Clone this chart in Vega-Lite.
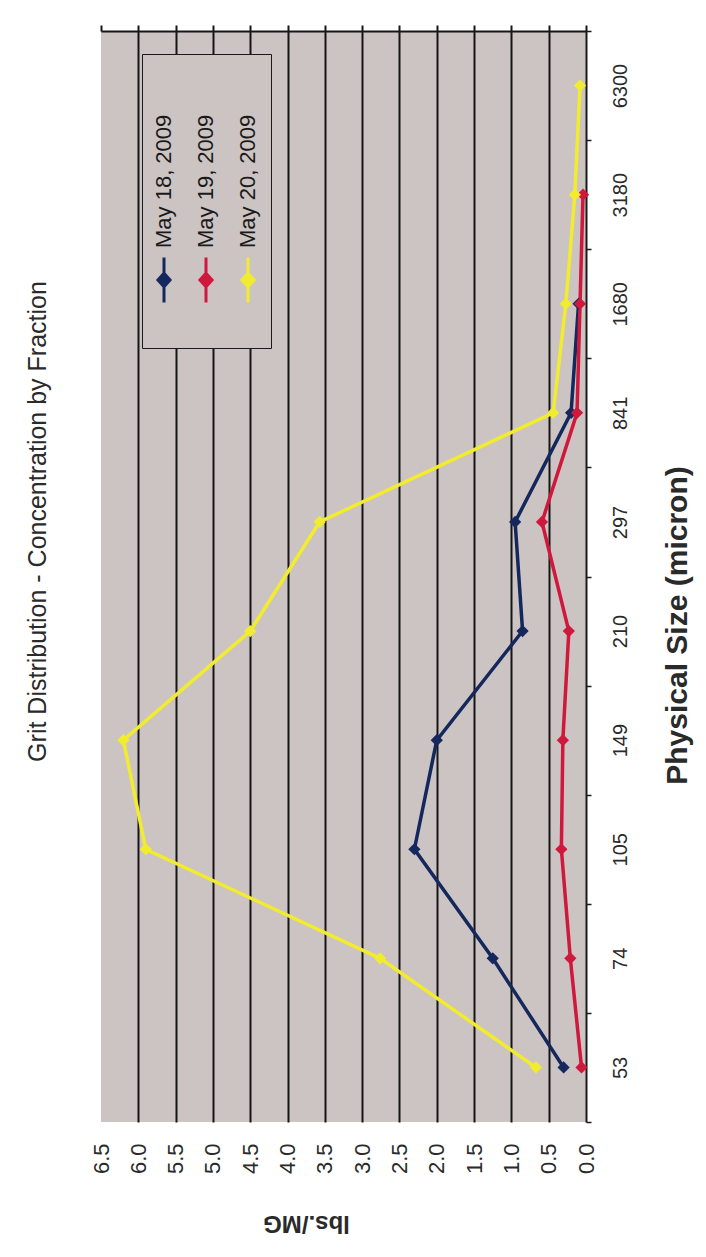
{
  "$schema": "https://vega.github.io/schema/vega-lite/v6.json",
  "width": 485,
  "height": 1091,
  "autosize": "none",
  "padding": {"left": 101, "top": 31, "right": 120, "bottom": 135},
  "background": "white",
  "title": {
    "text": "Grit Distribution - Concentration by Fraction",
    "orient": "left",
    "angle": 270,
    "anchor": "middle",
    "offset": 39,
    "dx": 55,
    "font": "Liberation Sans",
    "fontSize": 25,
    "fontWeight": "normal",
    "color": "#2a2a2a"
  },
  "data": {
    "values": [
      {"date": "May 18, 2009", "size": "53", "k": 1, "v": 0.3},
      {"date": "May 18, 2009", "size": "74", "k": 2, "v": 1.25},
      {"date": "May 18, 2009", "size": "105", "k": 3, "v": 2.3},
      {"date": "May 18, 2009", "size": "149", "k": 4, "v": 2.0},
      {"date": "May 18, 2009", "size": "210", "k": 5, "v": 0.85},
      {"date": "May 18, 2009", "size": "297", "k": 6, "v": 0.95},
      {"date": "May 18, 2009", "size": "841", "k": 7, "v": 0.2},
      {"date": "May 18, 2009", "size": "1680", "k": 8, "v": 0.1},
      {"date": "May 19, 2009", "size": "53", "k": 1, "v": 0.06},
      {"date": "May 19, 2009", "size": "74", "k": 2, "v": 0.21},
      {"date": "May 19, 2009", "size": "105", "k": 3, "v": 0.33},
      {"date": "May 19, 2009", "size": "149", "k": 4, "v": 0.31},
      {"date": "May 19, 2009", "size": "210", "k": 5, "v": 0.23},
      {"date": "May 19, 2009", "size": "297", "k": 6, "v": 0.59},
      {"date": "May 19, 2009", "size": "841", "k": 7, "v": 0.12},
      {"date": "May 19, 2009", "size": "1680", "k": 8, "v": 0.08},
      {"date": "May 19, 2009", "size": "3180", "k": 9, "v": 0.04},
      {"date": "May 20, 2009", "size": "53", "k": 1, "v": 0.67},
      {"date": "May 20, 2009", "size": "74", "k": 2, "v": 2.76},
      {"date": "May 20, 2009", "size": "105", "k": 3, "v": 5.9},
      {"date": "May 20, 2009", "size": "149", "k": 4, "v": 6.2},
      {"date": "May 20, 2009", "size": "210", "k": 5, "v": 4.5},
      {"date": "May 20, 2009", "size": "297", "k": 6, "v": 3.57},
      {"date": "May 20, 2009", "size": "841", "k": 7, "v": 0.44},
      {"date": "May 20, 2009", "size": "1680", "k": 8, "v": 0.27},
      {"date": "May 20, 2009", "size": "3180", "k": 9, "v": 0.15},
      {"date": "May 20, 2009", "size": "6300", "k": 10, "v": 0.08}
    ]
  },
  "encoding": {
    "y": {
      "field": "size",
      "type": "ordinal",
      "sort": ["6300", "3180", "1680", "841", "297", "210", "149", "105", "74", "53"],
      "bandPosition": 0.5,
      "scale": {"type": "band", "paddingInner": 0, "paddingOuter": 0},
      "axis": {
        "orient": "right",
        "tickBand": "extent",
        "ticks": true,
        "tickSize": 5,
        "tickColor": "#1a1a1a",
        "tickWidth": 1.5,
        "domain": true,
        "domainColor": "#1a1a1a",
        "domainWidth": 2,
        "grid": false,
        "labelAngle": 270,
        "labelAlign": "center",
        "labelBaseline": "top",
        "labelPadding": 19,
        "labelFont": "Liberation Sans",
        "labelFontSize": 20,
        "labelColor": "#2a2a2a",
        "title": "Physical Size (micron)",
        "titleAngle": 270,
        "titleFont": "Liberation Sans",
        "titleFontSize": 30,
        "titleFontWeight": "bold",
        "titleColor": "#2a2a2a",
        "titleAlign": "center",
        "titleBaseline": "middle",
        "titleX": 91,
        "titleY": 594
      }
    },
    "color": {
      "field": "date",
      "type": "nominal",
      "scale": {
        "domain": ["May 18, 2009", "May 19, 2009", "May 20, 2009"],
        "range": ["#14285e", "#d0183c", "#f2ec2e"]
      },
      "legend": {
        "orient": "none",
        "legendX": 41,
        "legendY": 23,
        "direction": "horizontal",
        "title": null,
        "fillColor": "#ccc3c3",
        "strokeColor": "#1a1a1a",
        "padding": 12,
        "columnPadding": 19,
        "clipHeight": 270,
        "symbolType": "M0,-1L0,1M-0.27,0L0,-0.3L0.27,0L0,0.3Z",
        "symbolSize": 2025,
        "symbolStrokeWidth": 3,
        "labelFont": "Liberation Sans",
        "labelFontSize": 22,
        "labelLimit": 200,
        "labelColor": "#1a1a1a",
        "encode": {
          "entries": {
            "update": {
              "width": {"value": 20},
              "height": {"value": 270}
            }
          },
          "labels": {
            "update": {
              "angle": {"value": 270},
              "align": {"value": "left"},
              "baseline": {"value": "middle"},
              "x": {"value": 10},
              "y": {"value": 182}
            }
          },
          "symbols": {
            "update": {
              "x": {"value": 10},
              "y": {"value": 214},
              "fill": {"signal": "scale('color', datum.value)"},
              "stroke": {"signal": "scale('color', datum.value)"}
            }
          }
        }
      }
    },
    "order": {"field": "k", "type": "quantitative"}
  },
  "layer": [
    {
      "mark": {"type": "line", "strokeWidth": 3.5},
      "encoding": {
        "x": {
          "field": "v",
          "type": "quantitative",
          "scale": {"domain": [0, 6.5], "reverse": true, "nice": false},
          "axis": {
            "orient": "bottom",
            "values": [0, 0.5, 1, 1.5, 2, 2.5, 3, 3.5, 4, 4.5, 5, 5.5, 6, 6.5],
            "format": ".1f",
            "labelAngle": 270,
            "labelAlign": "right",
            "labelBaseline": "middle",
            "labelPadding": 21,
            "labelFlush": false,
            "labelOverlap": false,
            "labelFont": "Liberation Sans",
            "labelFontSize": 22,
            "labelColor": "#2a2a2a",
            "ticks": false,
            "domain": false,
            "grid": true,
            "gridColor": {"condition": {"test": "datum.value === 6.5 || datum.value === 0", "value": "transparent"}, "value": "#161616"},
            "gridWidth": 2,
            "gridOpacity": 1,
            "title": "lbs./MG",
            "titleAngle": 180,
            "titleFont": "Liberation Sans",
            "titleFontSize": 24,
            "titleFontWeight": "bold",
            "titleColor": "#2a2a2a",
            "titleAlign": "center",
            "titleBaseline": "middle",
            "titleX": 205,
            "titleY": 100
          }
        }
      }
    },
    {
      "mark": {"type": "point", "shape": "diamond", "filled": true, "size": 150, "opacity": 1},
      "encoding": {
        "x": {
          "field": "v",
          "type": "quantitative",
          "scale": {"domain": [0, 6.5], "reverse": true, "nice": false},
          "axis": {
            "orient": "top",
            "values": [0, 0.5, 1, 1.5, 2, 2.5, 3, 3.5, 4, 4.5, 5, 5.5, 6, 6.5],
            "labels": false,
            "ticks": true,
            "tickSize": 6,
            "tickColor": "#161616",
            "tickWidth": 2,
            "domain": true,
            "domainColor": "#161616",
            "domainWidth": 2,
            "grid": false,
            "title": null
          }
        }
      }
    }
  ],
  "resolve": {"axis": {"x": "independent"}},
  "config": {
    "view": {"fill": "#ccc3c3", "stroke": null}
  }
}
